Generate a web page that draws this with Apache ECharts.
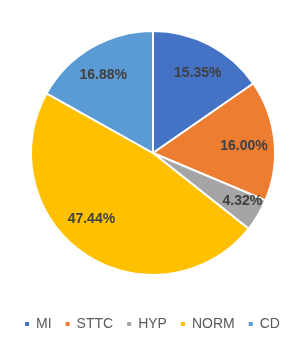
<!DOCTYPE html>
<html>
<head>
<meta charset="utf-8">
<script src="https://cdn.jsdelivr.net/npm/echarts@6/dist/echarts.min.js"></script>
<style>html,body{margin:0;padding:0;background:#fff}#c{width:303px;height:337px}</style>
</head>
<body>
<div id="c"></div>
<script>
var categories = ['MI', 'STTC', 'HYP', 'NORM', 'CD'];
var values = [15.35, 16.00, 4.32, 47.44, 16.88];
var colors = ['#4472C4', '#ED7D31', '#A5A5A5', '#FFC000', '#5B9BD5'];
var labelOffsets = [[1, 4], [-3, 3], [8, 0], [-9, -12], [-2, 4]];

var chart = echarts.init(document.getElementById('c'), null, {renderer: 'canvas'});
var baseData = categories.map(function (n, i) {
  return { name: n, value: values[i], itemStyle: { color: colors[i] } };
});
var labelData = categories.map(function (n, i) {
  return { name: n, value: values[i], label: { offset: labelOffsets[i] } };
});
chart.setOption({
  animation: false,
  backgroundColor: '#fff',
  legend: {
    data: categories,
    top: 312,
    left: 'center',
    icon: 'rect',
    itemWidth: 6,
    itemHeight: 6,
    itemGap: 12,
    textStyle: { color: '#595959', fontSize: 14, fontFamily: 'Liberation Sans', padding: [0, 0, 0, 1] }
  },
  series: [
    {
      type: 'pie',
      center: [153, 153],
      radius: [0, 122],
      startAngle: 90,
      clockwise: true,
      label: { show: false },
      labelLine: { show: false },
      itemStyle: { borderColor: '#fff', borderWidth: 2 },
      emphasis: { disabled: true },
      data: baseData
    },
    {
      type: 'pie',
      center: [153, 153],
      radius: [61, 122],
      startAngle: 90,
      clockwise: true,
      silent: true,
      legendHoverLink: false,
      itemStyle: { color: 'rgba(0,0,0,0)', borderWidth: 0 },
      label: {
        show: true,
        position: 'inside',
        formatter: function (p) { return p.value.toFixed(2) + '%'; },
        color: '#404040',
        fontSize: 14,
        fontWeight: 'bold',
        fontFamily: 'Liberation Sans'
      },
      labelLine: { show: false },
      emphasis: { disabled: true },
      data: labelData
    }
  ]
});
</script>
</body>
</html>
